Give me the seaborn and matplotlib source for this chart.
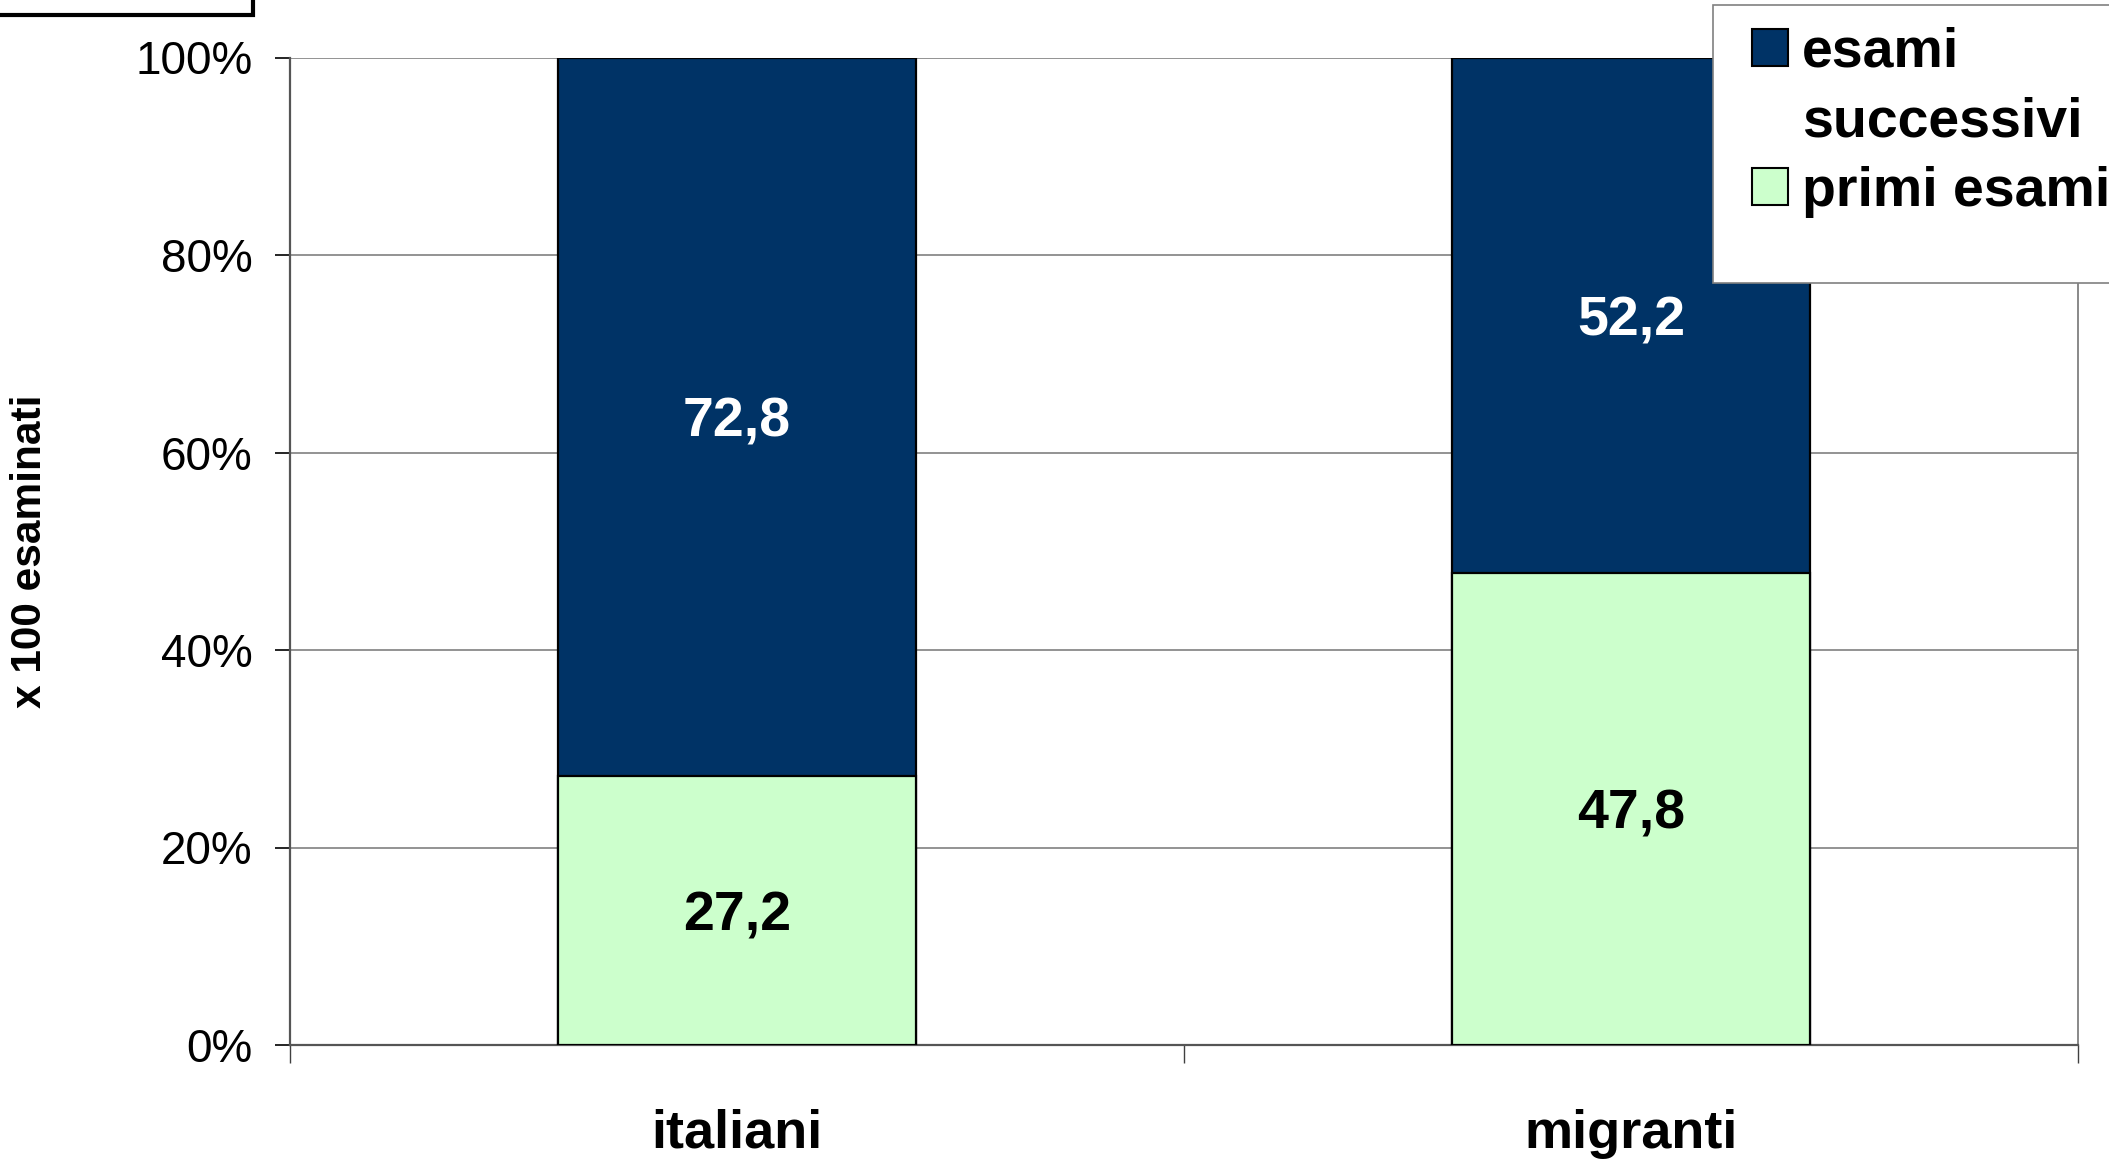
import numpy as np
import pandas as pd
import seaborn as sns
import matplotlib.pyplot as plt
from matplotlib import font_manager
from matplotlib.patches import Rectangle, Patch
from matplotlib.ticker import FuncFormatter, FixedLocator

# Data
groups = ['italiani', 'migranti']
primi = np.array([27.2, 47.8])
successivi = np.array([72.8, 52.2])

navy = '#003366'
green = '#CCFFCC'

sns.set_style('white')
plt.rcParams['font.family'] = ['Liberation Sans', 'DejaVu Sans']
for k in ['text.color', 'axes.labelcolor', 'xtick.color', 'ytick.color']:
    plt.rcParams[k] = 'black'

installed = {f.name for f in font_manager.fontManager.ttflist}
narrow = 'Liberation Sans Narrow' in installed

W, H = 2109, 1159
fig = plt.figure(figsize=(W / 100, H / 100), dpi=100)
ax = fig.add_axes([290 / W, 1 - 1045 / H, (2078 - 290) / W, (1045 - 57.5) / H])

df = pd.DataFrame({'gruppo': groups, 'primi': primi, 'totale': primi + successivi})

# stacked bars: full stack first, then the lower segment on top of it
sns.barplot(data=df, x='gruppo', y='totale', color=navy, saturation=1, width=0.4,
            edgecolor='black', linewidth=1.6, ax=ax, zorder=3)
sns.barplot(data=df, x='gruppo', y='primi', color=green, saturation=1, width=0.4,
            edgecolor='black', linewidth=1.6, ax=ax, zorder=4)

# value labels
for i in range(len(groups)):
    ax.text(i, primi[i] / 2, f'{primi[i]:.1f}'.replace('.', ','), ha='center',
            va='center_baseline', fontsize=40, fontweight='bold', color='black', zorder=5)
    ax.text(i, primi[i] + successivi[i] / 2, f'{successivi[i]:.1f}'.replace('.', ','),
            ha='center', va='center_baseline', fontsize=40, fontweight='bold',
            color='white', zorder=5)

ax.set_xlim(-0.5, len(groups) - 0.5)
ax.set_ylim(0, 100)
ax.set_yticks(np.arange(0, 101, 20))
ax.yaxis.set_major_formatter(FuncFormatter(lambda v, p: f'{v:.0f}%'))
ax.tick_params(axis='y', which='major', direction='out', length=11, width=1.2,
               color='black', labelsize=33, pad=16, left=True)
ax.grid(axis='y', color='#808080', linewidth=1.2, zorder=0)
ax.set_axisbelow(True)

# category labels at centres, tick marks at category boundaries
ax.xaxis.set_minor_locator(FixedLocator(np.arange(-0.5, len(groups), 1.0)))
ax.tick_params(axis='x', which='minor', direction='out', length=13, width=1.0,
               color='#404040', bottom=True)
ax.tick_params(axis='x', which='major', length=0, pad=46)
if narrow:
    xfont = dict(family='Liberation Sans Narrow', fontsize=46, fontweight='bold')
else:
    xfont = dict(family='Liberation Sans', fontsize=39, fontweight='bold')
ax.set_xticks(range(len(groups)))
ax.set_xticklabels(groups, **xfont)
ax.set_xlabel('')

ax.set_ylabel('x 100 esaminati', fontsize=30.5, fontweight='bold')
ax.yaxis.set_label_coords(-0.134, 0.5)

for side in ['left', 'bottom']:
    ax.spines[side].set_color('#555555')
    ax.spines[side].set_linewidth(1.6)
ax.spines['right'].set_color('#808080')
ax.spines['right'].set_linewidth(1.3)
ax.spines['top'].set_visible(False)

# legend frame drawn separately, it runs off the right edge
fig.patches.append(Rectangle((1713 / W, 1 - 283 / H), 420 / W, 278 / H, transform=fig.transFigure,
                             facecolor='white', edgecolor='#808080', linewidth=1.2, zorder=6))
handles = [Patch(facecolor=navy, edgecolor='black', linewidth=1.5),
           Patch(facecolor='none', edgecolor='none'),
           Patch(facecolor=green, edgecolor='black', linewidth=1.5)]
labels = ['esami', 'successivi', 'primi esami']
leg = fig.legend(handles, labels, loc='upper left', bbox_to_anchor=(1713 / W, 1 + 12 / H),
                 frameon=False, prop={'size': 40, 'weight': 'bold'}, handlelength=0.65,
                 handleheight=0.65, handletextpad=0.25, labelspacing=0.32, borderpad=0.2)
leg.set_zorder(7)

# partial box in the top-left corner
fig.patches.append(Rectangle((-10 / W, 1 - 15 / H), 263 / W, 40 / H, transform=fig.transFigure,
                             facecolor='white', edgecolor='black', linewidth=3, zorder=6))

fig.savefig('out.png', dpi=100)
